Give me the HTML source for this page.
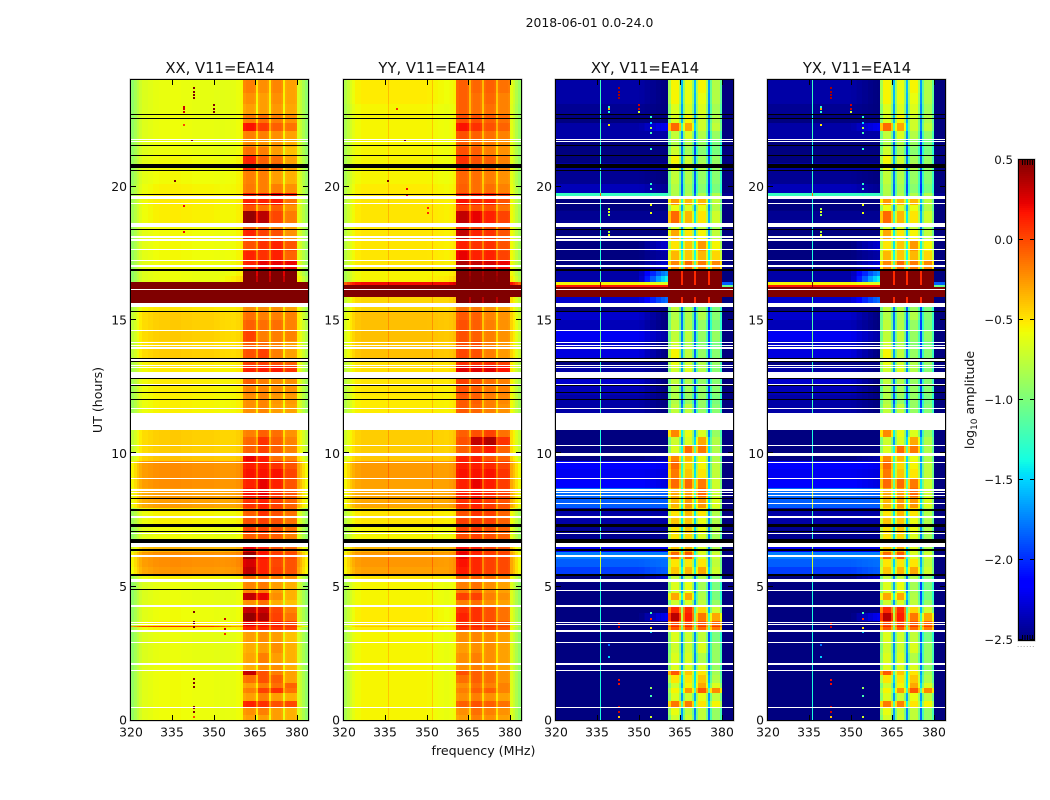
<!DOCTYPE html>
<html lang="en">
<head>
<meta charset="utf-8">
<title>2018-06-01 0.0-24.0</title>
<style>
html,body{margin:0;padding:0;background:#fff;}
svg{display:block;}
text{font-family:"DejaVu Sans","Liberation Sans",sans-serif;fill:#111;}
</style>
</head>
<body>
<svg id="figure" width="1050" height="800" viewBox="0 0 1050 800" xmlns="http://www.w3.org/2000/svg">
  <text x="589.5" y="27" font-size="12.4" text-anchor="middle">2018-06-01 0.0-24.0</text>
  <g id="panel-xx"></g>
  <g id="panel-yy"></g>
  <g id="panel-xy"></g>
  <g id="panel-yx"></g>
  <text x="220" y="73" font-size="14.8" text-anchor="middle">XX, V11=EA14</text>
  <text x="432" y="73" font-size="14.8" text-anchor="middle">YY, V11=EA14</text>
  <text x="645" y="73" font-size="14.8" text-anchor="middle">XY, V11=EA14</text>
  <text x="857" y="73" font-size="14.8" text-anchor="middle">YX, V11=EA14</text>
  <text x="483.5" y="755" font-size="12.6" text-anchor="middle">frequency (MHz)</text>
  <text transform="translate(102,400) rotate(-90)" font-size="12.6" text-anchor="middle">UT (hours)</text>
  <g id="colorbar"></g>
  <text transform="translate(974,400) rotate(-90)" font-size="12.6" text-anchor="middle">log<tspan font-size="9" dy="3">10</tspan><tspan dy="-3"> amplitude</tspan></text>
  <text x="1017" y="647" font-size="7" fill="#777" style="fill:#777;letter-spacing:0.8px">......</text>
</svg>
<script>
// ---- shared axes data ----
const xTickLabels = [320, 335, 350, 365, 380];
const yTickLabels = [0, 5, 10, 15, 20];
const colorbarTicks = [0.5, 0.0, -0.5, -1.0, -1.5, -2.0, -2.5];

// frequency channel edges (MHz)
const channelEdges = [320,321,322,323,324,326,328,330,332,334,335.9,336.4,338,340,342,344,346,348,350,351.8,352.3,354,356,358,359.5,360.6,361.5,364.4,365.3,366,366.8,369.2,370,370.6,371.4,374.2,375,375.6,376.4,379.2,380,381,382,383,384];
// sub-bands of the bright receiver band (MHz)
const bandEdges = [[360.6,365.3],[366,370],[370.6,375],[375.6,380]];
// weight of the "upper low-band" level per channel
const lowBlend = [0,0,0,0,0,0,0,0,0,0,0,0,0,0,0,0,0,0,0.1,0.2,0.35,0.55,0.75,0.9,1,1,1,1,1,1,1,1,1,1,1,1,1,1,1,1,1,1,1,1];

// UT row edges (hours)
const utEdges = [0,0.2,0.45,0.7,1.0,1.2,1.4,1.7,1.85,2.1,2.5,2.9,3.35,3.48,3.54,3.7,4.0,4.3,4.5,4.75,5.2,5.45,5.75,6.05,6.3,6.65,7.0,7.3,7.65,7.95,8.35,8.7,9.05,9.4,9.7,10,10.3,10.6,10.9,11.5,11.85,12.2,12.55,13.05,13.3,13.55,13.9,14.2,14.6,15.0,15.3,15.6,15.85,16.25,16.32,16.42,16.65,16.9,17.2,17.6,18.0,18.4,18.6,19.1,19.3,19.6,19.75,20.1,20.6,20.9,21.2,21.5,21.8,22.1,22.4,22.7,23.1,23.5,24];

// per-channel log10 amplitude offsets
const xxShape = [-.3,-.22,-.14,-.07,-.02,0,.02,.03,.03,.04,.04,.04,.03,.03,.02,.02,.02,.02,.01,.01,0,0,0,.02,.05,0,.03,0,-.28,0,.03,0,-.28,0,.03,0,-.28,0,.02,0,-.05,-.12,-.22,-.32];
const yyShape = [-.28,-.2,-.13,-.07,-.02,0,0,0,0,0,.15,0,0,0,0,0,0,0,0,.15,0,0,0,.02,.05,0,.03,0,-.25,0,.03,0,-.25,0,.03,0,-.25,0,.02,0,-.02,-.1,-.2,-.3];
const xyShape = [0,0,0,0,0,0,0,0,0,0,1.15,0,0,0,0,0,0,0,0,0,0,0,0,0,0,-.1,.2,-.1,-.8,-.1,.2,-.1,-.8,-.1,.2,-.1,-.8,-.1,.2,-.1,-1.2,-1.2,-1.2,-1.2];
const yxShape = [0,0,0,0,0,0,0,0,0,0,1.15,0,0,0,0,0,0,0,0,0,0,0,0,0,0,-.1,.2,-.1,-.8,-.1,.2,-.1,-.8,-.1,.2,-.1,-.8,-.1,.2,-.1,-1.2,-1.2,-1.2,-1.2];

// log10 amplitude per UT row: [low band, upper low band, band1, band2, band3, band4]
const xxLevels = [
[-.61,-.6,-.3,-.3,-.3,-.35],[-.61,-.6,-.25,-.2,-.3,-.35],[-.61,-.6,.1,.05,-.05,-.02],[-.61,-.6,-.3,-.2,-.3,-.35],
[-.61,-.6,-.2,0,.05,-.15],[-.61,-.6,-.3,-.2,-.15,-.1],[-.61,-.6,-.15,-.05,-.1,-.3],[-.61,-.6,.3,-.05,-.2,-.3],
[-.62,-.61,-.35,-.25,-.25,-.35],[-.63,-.61,-.32,-.2,-.3,-.35],[-.63,-.61,-.35,-.3,-.25,-.35],[-.63,-.61,-.3,-.25,-.3,-.4],
[-.56,-.56,.1,.1,.05,0],[.05,-.3,.15,.15,.1,.05],[-.56,-.56,.2,.15,.1,0],[-.61,-.6,.42,.35,0,-.15],
[-.61,-.6,.3,.28,-.02,-.2],[-.62,-.61,-.25,-.15,-.35,-.4],[-.63,-.62,.3,.2,-.25,-.35],[-.63,-.62,-.22,-.18,-.3,-.35],
[-.57,-.56,-.15,-.15,-.2,-.25],[-.28,-.25,.3,.1,0,-.05],[-.25,-.22,.25,.1,-.02,-.05],[-.25,-.22,.42,.15,.02,-.02],
[-.38,-.35,.2,.1,-.05,-.1],[-.61,-.6,-.1,-.05,-.1,-.2],[-.61,-.6,0,0,-.05,-.15],[-.57,-.56,-.05,0,-.05,-.15],
[-.57,-.57,-.1,.05,-.05,-.15],[-.3,-.3,.05,.1,0,-.1],[-.3,-.28,.15,.2,.05,-.05],[-.25,-.25,.1,.2,.1,-.05],
[-.25,-.25,.15,.15,.15,0],[-.25,-.25,.12,.12,.05,-.05],[-.42,-.42,.2,.12,-.15,-.2],[-.45,-.45,-.1,0,-.1,-.2],
[-.45,-.45,-.12,.05,-.1,-.2],[-.45,-.45,-.2,-.1,-.15,-.25],[-.56,-.56,-.25,-.25,-.3,-.3],[-.57,-.56,-.25,-.22,-.3,-.3],
[-.57,-.56,-.25,-.22,-.28,-.28],[-.56,-.55,-.22,-.22,-.25,-.25],[-.55,-.54,-.1,-.2,-.25,-.25],[-.55,-.54,.1,.12,.12,.05],
[-.53,-.53,0,0,-.05,-.1],[-.45,-.48,-.05,0,-.2,-.3],[-.48,-.5,-.1,-.15,-.22,-.3],[-.45,-.48,0,-.2,-.2,-.2],
[-.45,-.48,-.1,-.15,-.15,-.2],[-.45,-.48,-.15,-.2,-.2,-.2],[-.53,-.53,-.25,-.25,-.25,-.3],[1,1,1,1,1,1],
[1,1,1,1,1,1],[1,1,1,1,1,1],[1,1,1,1,1,1],[-.62,-.5,.6,.6,.6,.6],
[-.62,-.57,.5,.55,.55,.5],[-.6,-.56,.1,.2,.2,.2],[-.6,-.57,.1,.05,.1,-.1],[-.6,-.57,-.05,.05,.1,-.05],
[-.6,-.57,.1,0,-.05,-.25],[-.6,-.57,-.1,-.1,-.2,-.3],[-.56,-.56,.42,.32,-.02,-.18],[-.56,-.56,-.05,-.15,-.1,-.25],
[-.55,-.55,.1,.1,.12,-.15],[-.55,-.55,.1,.1,.2,.1],[-.57,-.56,-.18,-.2,-.2,-.25],[-.6,-.57,-.2,-.2,-.3,-.35],
[-.6,-.57,.1,-.1,-.1,-.3],[-.6,-.57,.1,-.1,-.15,-.3],[-.62,-.6,-.15,-.2,-.3,-.4],[-.62,-.6,-.25,-.28,-.28,-.35],
[-.62,-.6,-.2,-.2,-.25,-.3],[-.62,-.6,.15,.02,-.1,-.15],[-.62,-.6,-.2,-.15,-.2,-.25],[-.63,-.61,-.3,-.3,-.28,-.32],
[-.63,-.61,-.25,-.3,-.25,-.3],[-.63,-.61,-.2,-.25,-.22,-.3]
];
const yyLevels = [
[-.55,-.62,-.3,-.2,-.25,-.3],[-.55,-.62,-.25,-.15,-.2,-.25],[-.55,-.62,-.1,-.05,-.1,-.15],[-.55,-.62,-.25,-.2,-.25,-.3],
[-.55,-.62,-.2,-.1,-.1,-.2],[-.55,-.62,-.25,-.15,-.2,-.2],[-.55,-.62,-.15,-.1,-.15,-.25],[-.55,-.62,-.05,-.1,-.15,-.25],
[-.55,-.62,-.25,-.2,-.25,-.3],[-.55,-.62,-.25,-.2,-.25,-.3],[-.55,-.62,-.3,-.25,-.25,-.3],[-.55,-.62,-.25,-.22,-.25,-.3],
[-.52,-.58,.05,.05,0,-.05],[-.4,-.5,.1,.1,.05,0],[-.52,-.58,.05,.05,0,-.05],[-.52,-.6,.1,.05,-.05,-.15],
[-.52,-.6,.05,.05,-.05,-.15],[-.55,-.62,-.2,-.15,-.25,-.3],[-.55,-.62,0,0,-.2,-.25],[-.55,-.62,-.2,-.15,-.25,-.3],
[-.5,-.55,-.1,-.1,-.15,-.2],[-.28,-.28,.12,.08,0,-.02],[-.25,-.28,.15,.08,0,-.02],[-.25,-.28,.2,.1,.02,0],
[-.35,-.38,.15,.1,0,-.05],[-.55,-.6,-.05,0,-.05,-.1],[-.55,-.6,0,.02,-.05,-.1],[-.5,-.55,0,.02,0,-.1],
[-.5,-.55,-.05,.05,0,-.1],[-.3,-.3,.05,.1,.02,-.05],[-.3,-.3,.1,.15,.08,0],[-.28,-.28,.1,.2,.12,.02],
[-.26,-.28,.15,.15,.15,.05],[-.26,-.28,.12,.12,.08,0],[-.4,-.42,.1,.1,-.05,-.1],[-.42,-.45,-.1,.05,.12,-.1],
[-.42,-.45,-.05,.3,.35,.05],[-.42,-.45,-.1,-.05,0,-.15],[-.5,-.52,-.1,-.1,-.2,-.2],[-.52,-.55,-.08,-.12,-.2,-.25],
[-.52,-.55,-.08,-.1,-.2,-.22],[-.5,-.55,-.05,-.1,-.18,-.2],[-.5,-.52,0,-.05,-.15,-.2],[-.48,-.5,.22,.22,.22,.15],
[-.48,-.5,.05,.05,.05,0],[-.38,-.42,-.02,-.05,-.2,-.28],[-.4,-.45,-.05,-.05,-.2,-.28],[-.38,-.42,-.05,-.1,-.2,-.25],
[-.38,-.42,-.05,-.1,-.2,-.25],[-.38,-.42,-.08,-.1,-.22,-.25],[-.45,-.48,-.15,-.18,-.25,-.3],[-.45,-.45,.6,.6,.6,.6],
[1,1,1,1,1,1],[1,1,1,1,1,1],[.2,.2,1,1,1,1],[-.55,-.5,.7,.7,.7,.7],
[-.55,-.55,.65,.65,.65,.65],[-.5,-.55,.35,.3,.25,.2],[-.5,-.55,.2,.1,.1,0],[-.5,-.55,.1,.05,.05,-.05],
[-.5,-.55,.3,.1,.05,-.05],[-.5,-.55,.1,0,-.05,-.1],[-.5,-.55,.3,.2,.1,0],[-.5,-.55,0,-.05,-.05,-.15],
[-.5,-.55,.15,.1,.1,-.05],[-.5,-.55,.1,.1,.1,0],[-.52,-.58,-.1,-.15,-.15,-.2],[-.55,-.6,-.12,-.15,-.2,-.25],
[-.55,-.6,.05,-.05,-.1,-.2],[-.55,-.6,.05,-.05,-.1,-.2],[-.55,-.6,-.05,-.1,-.2,-.25],[-.55,-.6,-.1,-.15,-.2,-.25],
[-.55,-.6,-.05,-.1,-.15,-.2],[-.55,-.6,.15,.05,-.05,-.1],[-.55,-.6,-.05,-.05,-.1,-.15],[-.55,-.62,-.1,-.15,-.15,-.2],
[-.52,-.6,-.1,-.15,-.12,-.2],[-.52,-.6,-.1,-.12,-.1,-.15]
];
const xyLevels = [
[-2.5,-2.5,-.9,-.9,-.95,-1.1],[-2.5,-2.5,-.8,-.95,-.95,-1.1],[-2.5,-2.5,-.35,-.35,-.7,-.75],[-2.5,-2.5,-.85,-.9,-.8,-.95],
[-2.5,-2.5,-.75,-.45,-.25,-.4],[-2.5,-2.5,-.9,-.75,-.5,-.85],[-2.5,-2.5,-.7,-.7,-.6,-1],[-2.5,-2.5,-.25,-.6,-.7,-1.05],
[-2.5,-2.5,-.85,-.85,-.85,-1.1],[-2.5,-2.5,-.85,-.85,-1,-1.1],[-2.5,-2.5,-.9,-.9,-.85,-1.1],[-2.5,-2.5,-.85,-.9,-.95,-1.2],
[-2.5,-2.5,-.25,-.25,-.3,-.35],[-2.5,-2.5,-.1,-.1,-.15,-.15],[-2.5,-2.5,-.2,-.2,-.25,-.3],[-2.5,-2.2,.15,-.05,-.35,-.5],
[-2.5,-2.5,-.1,-.1,-.65,-.9],[-2.5,-2.5,-.9,-.85,-.95,-1.1],[-2.5,-2.5,-.5,-.5,-1,-1.2],[-2.5,-2.5,-.85,-.8,-1.05,-1.2],
[-2.5,-2.3,-.95,-.95,-1,-1.15],[-1.95,-1.85,-.6,-.55,-.5,-.9],[-1.85,-1.8,-.7,-.7,-.7,-.95],[-1.75,-1.75,-.3,-.25,-.85,-.9],
[-2.2,-2.2,-.6,-.5,-.85,-1],[-2.45,-2.45,-.7,-.65,-.85,-1.05],[-2.45,-2.45,-.7,-.6,-.8,-1],[-2.4,-2.4,-.6,-.6,-.8,-1],
[-2.4,-2.4,-.7,-.55,-.7,-1],[-1.85,-1.85,-.55,-.45,-.45,-.85],[-1.8,-1.85,-.5,-.45,-.3,-.9],[-2.15,-2.25,-.3,-.3,-.35,-.9],
[-2.2,-2.25,-.35,-.6,-.7,-.95],[-2.15,-2.2,-.3,-.65,-.75,-.95],[-2.5,-2.4,-.4,-.55,-.8,-1],[-2.5,-2.5,-.85,-.3,-.35,-1],
[-2.5,-2.5,-.9,-.85,-.5,-1],[-2.5,-2.5,-.4,-.8,-.85,-1.1],[-2.5,-2.5,-1,-1,-1.1,-1.1],[-2.4,-2.5,-.95,-.95,-1.1,-1.15],
[-2.4,-2.5,-1,-1.1,-1.1,-1.2],[-2.35,-2.5,-1,-1.05,-1.1,-1.15],[-2.3,-2.5,-.95,-1,-1.1,-1.15],[-2.4,-2.5,-.9,-.85,-1,-1.15],
[-2.5,-2.5,-.8,-.9,-1,-1.1],[-2.25,-2.5,-.75,-.95,-1.1,-1.15],[-2.3,-2.5,-.9,-1,-1.15,-1.2],[-2.2,-2.4,-.95,-.95,-1.1,-1.1],
[-2.35,-2.5,-.95,-1,-1.1,-1.2],[-2.3,-2.5,-1,-1,-1,-1.15],[-2.5,-2.5,-.95,-1,-1.1,-1.2],[-2.3,-1.8,.9,.9,.9,.9],
[2,2,2,2,2,2],[.15,.15,2,2,2,2],[-.55,-.65,.9,.9,.9,.9],[-2.4,-1.4,.9,.9,.9,.9],
[-2.4,-1.7,.9,.9,.9,.9],[-2.5,-2.3,-.4,-.3,-.35,-.4],[-2.5,-2.4,-.55,-.6,-.55,-.65],[-2.5,-2.3,-.7,-.6,-.45,-.75],
[-2.5,-2.5,-.5,-.7,-.75,-.95],[-2.5,-2.5,-.9,-.85,-.95,-1.05],[-2.45,-2.45,-.3,-.55,-.7,-.9],[-2.5,-2.5,-.8,-.85,-.8,-1],
[-2.5,-2.5,-.45,-.55,-.55,-.95],[-1.25,-1.25,-1,-1,-1,-1],[-2.35,-2.45,-1,-1.05,-1.15,-1.2],[-2.45,-2.5,-.95,-1,-1.1,-1.15],
[-2.4,-2.4,-.8,-.9,-1,-1.1],[-2.5,-2.5,-.75,-.9,-1.05,-1.1],[-2.5,-2.5,-.9,-1.05,-1.15,-1.2],[-2.5,-2.5,-1,-1,-1.1,-1.2],
[-2.4,-2.4,-.95,-.85,-1,-1.1],[-2.4,-2.2,-.3,-.5,-.9,-.95],[-2.5,-2.5,-.85,-.75,-.9,-1],[-2.45,-2.5,-.85,-.85,-.85,-1.05],
[-2.4,-2.5,-.75,-.8,-.8,-1],[-2.4,-2.5,-.75,-.8,-.75,-1]
];
const yxLevels = [
[-2.5,-2.5,-.88,-.9,-.95,-1.1],[-2.5,-2.5,-.8,-.92,-.95,-1.1],[-2.5,-2.5,-.35,-.38,-.7,-.75],[-2.5,-2.5,-.85,-.9,-.8,-.95],
[-2.5,-2.5,-.75,-.45,-.25,-.4],[-2.5,-2.5,-.9,-.75,-.5,-.85],[-2.5,-2.5,-.7,-.7,-.6,-1],[-2.5,-2.5,-.25,-.6,-.7,-1.05],
[-2.5,-2.5,-.85,-.85,-.85,-1.1],[-2.5,-2.5,-.85,-.85,-1,-1.1],[-2.5,-2.5,-.9,-.9,-.85,-1.1],[-2.5,-2.5,-.85,-.9,-.95,-1.2],
[-2.5,-2.5,-.25,-.25,-.3,-.35],[-2.5,-2.5,-.1,-.1,-.15,-.15],[-2.5,-2.5,-.2,-.2,-.25,-.3],[-2.5,-2.2,.15,-.05,-.35,-.5],
[-2.5,-2.5,-.1,-.1,-.65,-.9],[-2.5,-2.5,-.9,-.85,-.95,-1.1],[-2.5,-2.5,-.5,-.5,-1,-1.2],[-2.5,-2.5,-.85,-.8,-1.05,-1.2],
[-2.5,-2.3,-.95,-.95,-1,-1.15],[-1.95,-1.85,-.6,-.55,-.5,-.9],[-1.85,-1.8,-.7,-.7,-.7,-.95],[-1.75,-1.75,-.3,-.25,-.85,-.9],
[-2.2,-2.2,-.6,-.5,-.85,-1],[-2.45,-2.45,-.7,-.65,-.85,-1.05],[-2.45,-2.45,-.7,-.6,-.8,-1],[-2.4,-2.4,-.6,-.6,-.8,-1],
[-2.4,-2.4,-.7,-.55,-.7,-1],[-1.85,-1.85,-.55,-.45,-.45,-.85],[-1.8,-1.85,-.5,-.45,-.3,-.9],[-2.15,-2.25,-.3,-.3,-.35,-.9],
[-2.2,-2.25,-.35,-.6,-.7,-.95],[-2.15,-2.2,-.3,-.65,-.75,-.95],[-2.5,-2.4,-.4,-.55,-.8,-1],[-2.5,-2.5,-.85,-.3,-.35,-1],
[-2.5,-2.5,-.9,-.85,-.5,-1],[-2.5,-2.5,-.4,-.8,-.85,-1.1],[-2.5,-2.5,-1,-1,-1.1,-1.1],[-2.4,-2.5,-.95,-.95,-1.1,-1.15],
[-2.4,-2.5,-1,-1.1,-1.1,-1.2],[-2.35,-2.5,-1,-1.05,-1.1,-1.15],[-2.3,-2.5,-.95,-1,-1.1,-1.15],[-2.4,-2.5,-.9,-.85,-1,-1.15],
[-2.5,-2.5,-.8,-.9,-1,-1.1],[-2.25,-2.5,-.75,-.95,-1.1,-1.15],[-2.3,-2.5,-.9,-1,-1.15,-1.2],[-2.2,-2.4,-.95,-.95,-1.1,-1.1],
[-2.35,-2.5,-.95,-1,-1.1,-1.2],[-2.3,-2.5,-1,-1,-1,-1.15],[-2.5,-2.5,-.95,-1,-1.1,-1.2],[-2.3,-1.8,.9,.9,.9,.9],
[2,2,2,2,2,2],[.15,.15,2,2,2,2],[-.55,-.65,.9,.9,.9,.9],[-2.4,-1.4,.9,.9,.9,.9],
[-2.4,-1.7,.9,.9,.9,.9],[-2.5,-2.3,-.4,-.3,-.35,-.4],[-2.5,-2.4,-.55,-.6,-.55,-.65],[-2.5,-2.3,-.7,-.6,-.45,-.75],
[-2.5,-2.5,-.5,-.7,-.75,-.95],[-2.5,-2.5,-.9,-.85,-.95,-1.05],[-2.45,-2.45,-.3,-.55,-.7,-.9],[-2.5,-2.5,-.8,-.85,-.8,-1],
[-2.5,-2.5,-.45,-.55,-.55,-.95],[-1.25,-1.25,-1,-1,-1,-1],[-2.35,-2.45,-1,-1.05,-1.15,-1.2],[-2.45,-2.5,-.95,-1,-1.1,-1.15],
[-2.4,-2.4,-.8,-.9,-1,-1.1],[-2.5,-2.5,-.75,-.9,-1.05,-1.1],[-2.5,-2.5,-.9,-1.05,-1.15,-1.2],[-2.5,-2.5,-1,-1,-1.1,-1.2],
[-2.4,-2.4,-.95,-.85,-1,-1.1],[-2.4,-2.2,-.3,-.5,-.9,-.95],[-2.5,-2.5,-.85,-.75,-.9,-1],[-2.45,-2.5,-.85,-.85,-.85,-1.05],
[-2.4,-2.5,-.75,-.8,-.8,-1],[-2.4,-2.5,-.75,-.8,-.75,-1]
];

// flagged (no data) UT ranges: shown white
const flaggedStart = [.46,1.84,2.07,2.89,3.3,3.56,3.64,4.24,5.17,6.13,6.47,7.0,7.58,8.09,8.41,8.5,8.57,9.04,9.64,9.9,10.28,10.875,11.67,12.55,12.84,13.21,13.29,13.48,13.93,14.03,14.14,14.59,15.5,16.13,16.97,17.2,17.63,17.98,18.09,18.48,19.35,19.53,21.67,21.76];
const flaggedEnd   = [.49,1.88,2.12,2.93,3.39,3.6,3.68,4.31,5.27,6.17,6.62,7.03,7.65,8.13,8.45,8.54,8.65,9.08,9.68,10.0,10.32,11.5,11.71,12.6,13.05,13.25,13.33,13.52,13.97,14.07,14.18,14.63,15.63,16.17,17.08,17.24,17.67,18.02,18.14,18.63,19.39,19.66,21.71,21.8];
// empty (zero) UT ranges: shown black
const parallelBlackStart = [4.88,5.41,6.32,6.38,6.65,7.04,7.25,7.85,8.29,12.01,12.27,12.53,12.79,13.42,13.54,15.31,16.84,18.38,19.69,20.58,20.7,21.16,21.53,22.54,22.69];
const parallelBlackEnd   = [4.92,5.49,6.36,6.42,6.78,7.08,7.35,7.92,8.33,12.05,12.31,12.57,12.83,13.46,13.58,15.35,16.93,18.42,19.73,20.62,20.85,21.2,21.57,22.58,22.73];
const crossBlackStart = [5.41,6.32,6.38,6.65,7.04,7.25,7.85,8.29,12.01,12.27,12.53,12.79,13.42,13.54,15.31,16.84,18.38,20.58,20.7,21.16,21.53,22.54,22.69];
const crossBlackEnd   = [5.49,6.36,6.42,6.78,7.08,7.35,7.92,8.33,12.05,12.31,12.57,12.83,13.46,13.58,15.35,16.93,18.42,20.62,20.85,21.2,21.57,22.58,22.73];
const crossWhiteStart = [4.84];
const crossWhiteEnd   = [4.88];

// isolated RFI samples
const xxPointMHz = [342.5,342.5,342.5,342.5,338.9,338.9,338.9,349.7,349.7,349.7,338.9,341.6,335.5,338.9,338.9,342.5,342.5,342.5,342.5,342.5,342.5,342.5,342.5,342.5,342.5,342.5,353.7,353.7,353.7];
const xxPointUT  = [23.69,23.56,23.44,23.31,23.0,22.9,22.8,23.06,22.91,22.8,22.3,21.7,20.2,19.27,18.3,4.04,3.69,3.59,3.5,1.53,1.38,1.23,.5,.44,.31,.12,3.78,3.4,3.21];
const xxPointAmp = [.5,.5,.5,.5,.3,.3,.3,.5,.5,.5,0,.5,.5,.2,.2,.5,.5,.5,.5,.5,.5,.5,.5,.5,.5,0,.3,.3,.1];
const yyPointMHz = [338.9,335.5,342.5,342.5,350,350,341.6];
const yyPointUT  = [22.9,20.2,19.9,19.7,19.2,19.0,21.7];
const yyPointAmp = [.1,.5,.2,.2,.1,.1,.5];
const xyPointMHz = [338.9,338.9,338.9,338.9,338.9,338.9,338.9,338.9,338.9,342.5,342.5,342.5,342.5,349.7,349.7,349.7,354,354,354,354,354,354,354,354,354,354,342.5,342.5,342.5,342.5,342.5,342.5,342.5,354,354,354,354,354,354,354,338.9,338.9];
const xyPointUT  = [23.0,22.9,22.8,22.3,19.15,19.05,18.95,18.3,18.2,23.69,23.56,23.44,23.31,23.06,22.91,22.8,22.6,22.4,22.2,22.0,21.4,20.1,19.9,19.7,19.3,19.0,3.6,3.5,1.5,1.35,.5,.3,.12,4.0,3.8,3.45,3.3,1.2,.9,.12,2.8,2.35];
const xyPointAmp = [-1.3,-.3,-1.3,-.5,-.8,-.6,-.9,-.8,-.6,.4,.4,.4,.4,.3,.3,-.7,-1.3,-1.5,-.8,-1.2,-1.3,-1.3,-1.2,-1.3,-.6,-.6,.3,.3,.2,.2,.3,.3,-.4,-1.2,.1,-.5,-1.5,-.9,-1.2,-.7,-1.8,-1.5];
const yxPointMHz = [338.9,338.9,338.9,338.9,338.9,338.9,338.9,338.9,338.9,342.5,342.5,342.5,342.5,349.7,349.7,349.7,354,354,354,354,354,354,354,354,354,354,342.5,342.5,342.5,342.5,342.5,342.5,342.5,354,354,354,354,354,354,354,338.9,338.9];
const yxPointUT  = [23.0,22.9,22.8,22.3,19.15,19.05,18.95,18.3,18.2,23.69,23.56,23.44,23.31,23.06,22.91,22.8,22.6,22.4,22.2,22.0,21.4,20.1,19.9,19.7,19.3,19.0,3.6,3.5,1.5,1.35,.5,.3,.12,4.0,3.8,3.45,3.3,1.2,.9,.12,2.8,2.35];
const yxPointAmp = [-1.3,-.3,-1.3,-.5,-.8,-.6,-.9,-.8,-.6,.4,.4,.4,.4,.3,.3,-.7,-1.3,-1.5,-.8,-1.2,-1.3,-1.3,-1.2,-1.3,-.6,-.6,.3,.3,.2,.2,.3,.3,-.4,-1.2,.1,-.5,-1.5,-.9,-1.2,-.7,-1.8,-1.5];

// ---- scales and colour ----
const SVGNS = 'http://www.w3.org/2000/svg';
const axisTop = 80, axisBottom = 720, axisWidth = 177;
const freqMin = 320, freqMax = 384, utMax = 24, ampMin = -2.5, ampMax = 0.5;
function sx(left, mhz) { return left + (mhz - freqMin) * axisWidth / (freqMax - freqMin); }
function sy(ut) { return axisBottom - ut * (axisBottom - axisTop) / utMax; }
function piece(v, pts) {
  if (v <= pts[0][0]) return pts[0][1];
  for (let i = 1; i < pts.length; i++) {
    if (v <= pts[i][0]) {
      const t = (v - pts[i-1][0]) / (pts[i][0] - pts[i-1][0]);
      return pts[i-1][1] + t * (pts[i][1] - pts[i-1][1]);
    }
  }
  return pts[pts.length-1][1];
}
function jet(amp) {
  const v = Math.max(0, Math.min(1, (amp - ampMin) / (ampMax - ampMin)));
  const r = piece(v, [[0,0],[.35,0],[.66,1],[.89,1],[1,.5]]);
  const g = piece(v, [[0,0],[.125,0],[.375,1],[.64,1],[.91,0],[1,0]]);
  const b = piece(v, [[0,.5],[.11,1],[.34,1],[.65,0],[1,0]]);
  return 'rgb(' + Math.round(r*255) + ',' + Math.round(g*255) + ',' + Math.round(b*255) + ')';
}
function cellValue(levels, shape, r, c) {
  const mhz = (channelEdges[c] + channelEdges[c+1]) / 2;
  const row = levels[r];
  let base;
  const idx = bandEdges.findIndex(function (b) { return mhz >= b[0] && mhz < b[1]; });
  if (idx >= 0) {
    base = row[2 + idx];
  } else if (mhz > bandEdges[0][0] && mhz < bandEdges[3][1]) {
    let g = 0;
    while (!(mhz >= bandEdges[g][1] && mhz < bandEdges[g+1][0])) g++;
    base = (row[2 + g] + row[3 + g]) / 2;
  } else {
    base = row[0] * (1 - lowBlend[c]) + row[1] * lowBlend[c];
  }
  return base + shape[c];
}
function rect(parent, x, y, w, h, fill) {
  const el = document.createElementNS(SVGNS, 'rect');
  el.setAttribute('x', x);
  el.setAttribute('y', y);
  el.setAttribute('width', w);
  el.setAttribute('height', h);
  el.setAttribute('fill', fill);
  parent.appendChild(el);
  return el;
}
function line(parent, x1, y1, x2, y2, stroke) {
  const el = document.createElementNS(SVGNS, 'line');
  el.setAttribute('x1', x1);
  el.setAttribute('y1', y1);
  el.setAttribute('x2', x2);
  el.setAttribute('y2', y2);
  el.setAttribute('stroke', stroke);
  el.setAttribute('stroke-width', 1);
  parent.appendChild(el);
  return el;
}
function label(parent, x, y, str, anchor) {
  const el = document.createElementNS(SVGNS, 'text');
  el.setAttribute('x', x);
  el.setAttribute('y', y);
  el.setAttribute('font-size', 12.4);
  el.setAttribute('text-anchor', anchor);
  el.textContent = str;
  parent.appendChild(el);
  return el;
}
function drawSpans(g, left, starts, ends, color) {
  starts.forEach(function (s, i) {
    const y0 = Math.round(sy(ends[i]));
    const h = Math.max(1, Math.round(sy(s)) - y0);
    const el = rect(g, left, y0, axisWidth, h, color);
    
    
  });
}
function drawPanel(id, left, levels, shape, ptMHz, ptUT, ptAmp, blackS, blackE, extraWS, extraWE) {
  const g = document.getElementById(id);
  const cells = document.createElementNS(SVGNS, 'g');
  cells.setAttribute('shape-rendering', 'crispEdges');
  
  
  g.appendChild(cells);
  for (let r = 0; r < utEdges.length - 1; r++) {
    const y0 = Math.round(sy(utEdges[r+1]));
    const y1 = Math.round(sy(utEdges[r]));
    for (let c = 0; c < channelEdges.length - 1; c++) {
      const x0 = Math.round(sx(left, channelEdges[c]));
      const x1 = Math.round(sx(left, channelEdges[c+1]));
      if (x1 <= x0 || y1 <= y0) continue;
      const cell = rect(cells, x0, y0, x1 - x0, y1 - y0, jet(cellValue(levels, shape, r, c)));
      
      
    }
  }
  ptMHz.forEach(function (m, i) {
    const p = rect(cells, Math.round(sx(left, m)), Math.round(sy(ptUT[i])) - 1, 2, 2, jet(ptAmp[i]));
    
    
  });
  const spans = document.createElementNS(SVGNS, 'g');
  spans.setAttribute('shape-rendering', 'crispEdges');
  
  
  g.appendChild(spans);
  drawSpans(spans, left, flaggedStart, flaggedEnd, '#fff');
  drawSpans(spans, left, extraWS, extraWE, '#fff');
  drawSpans(spans, left, blackS, blackE, '#000');

  const frameOuter = document.createElementNS(SVGNS, 'rect');
  frameOuter.setAttribute('x', left - 1);
  frameOuter.setAttribute('y', axisTop - 1);
  frameOuter.setAttribute('width', axisWidth + 2);
  frameOuter.setAttribute('height', axisBottom - axisTop + 2);
  frameOuter.setAttribute('fill', 'none');
  frameOuter.setAttribute('stroke', '#b0b0b0');
  frameOuter.setAttribute('stroke-width', 1);
  
  
  g.appendChild(frameOuter);
  const frame = document.createElementNS(SVGNS, 'rect');
  frame.setAttribute('x', left - 0.5);
  frame.setAttribute('y', axisTop - 0.5);
  frame.setAttribute('width', axisWidth + 1);
  frame.setAttribute('height', axisBottom - axisTop + 1);
  frame.setAttribute('fill', 'none');
  frame.setAttribute('stroke', '#000');
  frame.setAttribute('stroke-width', 1);
  
  
  g.appendChild(frame);

  xTickLabels.forEach(function (v) {
    const x = Math.round(sx(left, v)) + 0.5;
    if (v !== freqMin) {
      const t1 = line(g, x, axisBottom, x, axisBottom - 5, '#000');
      
      
      const t2 = line(g, x, axisTop, x, axisTop + 5, '#000');
      
      
    }
    const tl = label(g, x - 0.5, 736.5, String(v), 'middle');
    
    
  });
  yTickLabels.forEach(function (v) {
    const y = Math.round(sy(v)) - 0.5;
    if (v !== 0) {
      const t1 = line(g, left, y, left + 5, y, '#000');
      
      
      const t2 = line(g, left + axisWidth, y, left + axisWidth - 5, y, '#000');
      
      
    }
    const tl = label(g, left - 4, sy(v) + 4.5, String(v), 'end');
    
    
  });
}

drawPanel('panel-xx', 131, xxLevels, xxShape, xxPointMHz, xxPointUT, xxPointAmp, parallelBlackStart, parallelBlackEnd, [], []);
drawPanel('panel-yy', 344, yyLevels, yyShape, yyPointMHz, yyPointUT, yyPointAmp, parallelBlackStart, parallelBlackEnd, [], []);
drawPanel('panel-xy', 556, xyLevels, xyShape, xyPointMHz, xyPointUT, xyPointAmp, crossBlackStart, crossBlackEnd, crossWhiteStart, crossWhiteEnd);
drawPanel('panel-yx', 768, yxLevels, yxShape, yxPointMHz, yxPointUT, yxPointAmp, crossBlackStart, crossBlackEnd, crossWhiteStart, crossWhiteEnd);

// ---- colorbar ----
(function () {
  const g = document.getElementById('colorbar');
  const left = 1019, w = 15, top = 160, bottom = 640;
  function cy(a) { return top + (ampMax - a) * (bottom - top) / (ampMax - ampMin); }
  const strip = document.createElementNS(SVGNS, 'g');
  strip.setAttribute('shape-rendering', 'crispEdges');
  
  
  g.appendChild(strip);
  for (let y = top; y < bottom; y += 2) {
    const a = ampMax - (y + 1 - top) * (ampMax - ampMin) / (bottom - top);
    const s = rect(strip, left, y, w, 2, jet(a));
    
    
  }
  const halo = document.createElementNS(SVGNS, 'rect');
  halo.setAttribute('x', left - 1);
  halo.setAttribute('y', top - 1);
  halo.setAttribute('width', w + 2);
  halo.setAttribute('height', bottom - top + 2);
  halo.setAttribute('fill', 'none');
  halo.setAttribute('stroke', '#b0b0b0');
  
  
  g.appendChild(halo);
  const frame = document.createElementNS(SVGNS, 'rect');
  frame.setAttribute('x', left - 0.5);
  frame.setAttribute('y', top - 0.5);
  frame.setAttribute('width', w + 1);
  frame.setAttribute('height', bottom - top + 1);
  frame.setAttribute('fill', 'none');
  frame.setAttribute('stroke', '#000');
  
  
  g.appendChild(frame);
  colorbarTicks.forEach(function (v) {
    const y = Math.round(cy(v)) - 0.5;
    const t1 = line(g, left, y, left + 4, y, '#000');
    
    
    const t2 = line(g, left + w, y, left + w - 4, y, '#000');
    
    
    const tl = label(g, 1013, cy(v) + 4, v.toFixed(1).replace('-', '\u2212'), 'end');
    tl.setAttribute('font-size', 11.8);
    
    
  });
  for (let i = 0; i < 5; i++) {
    const x = left + 3.5 + i * 2.5;
    const a = line(g, x, top, x, top + 5, '#000');
    
    
    const b = line(g, x, bottom, x, bottom - 5, '#000');
    
    
  }
})();
</script>
</body>
</html>
